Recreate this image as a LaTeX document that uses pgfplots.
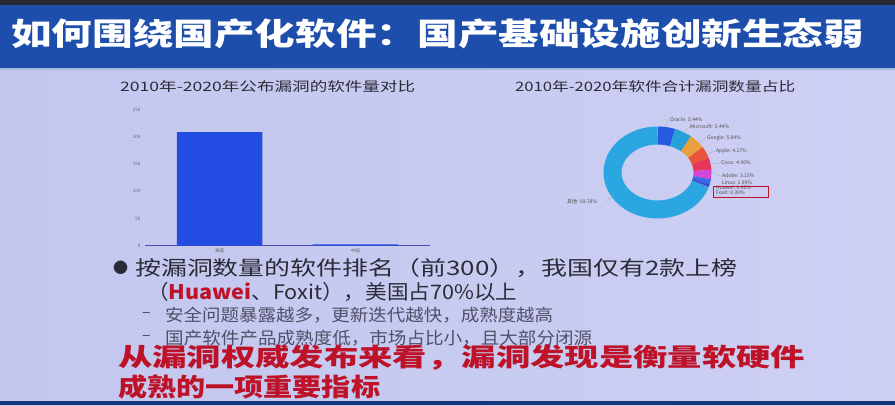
\documentclass[border=0pt]{standalone}
\usepackage{pgfplots}
\pgfplotsset{compat=1.18}
\usepackage{pgfplotstable}
\usepackage{graphicx}
\usepackage{fontspec}
\setmainfont{Noto Sans CJK SC}

\definecolor{bgL}{RGB}{195,198,238}
\definecolor{bgR}{RGB}{205,208,243}
\definecolor{headblue}{RGB}{30,78,172}
\definecolor{headdark}{RGB}{40,40,45}
\definecolor{barblue}{RGB}{34,76,226}
\definecolor{txt}{RGB}{43,43,56}
\definecolor{subtxt}{RGB}{80,80,104}
\definecolor{redtxt}{RGB}{190,18,40}
\definecolor{cOracle}{RGB}{40,90,225}
\definecolor{cMicrosoft}{RGB}{38,160,215}
\definecolor{cGoogle}{RGB}{232,160,60}
\definecolor{cApple}{RGB}{232,85,60}
\definecolor{cCisco}{RGB}{230,55,90}
\definecolor{cAdobe}{RGB}{210,70,215}
\definecolor{cLinux}{RGB}{60,105,230}
\definecolor{cHuawei}{RGB}{40,70,200}
\definecolor{cFoxit}{RGB}{85,120,225}
\definecolor{cOther}{RGB}{42,166,224}

% share of vulnerabilities 2010-2020 (percent), clockwise from the top
\pgfplotstableread{
share col
5.44 cOracle
5.44 cMicrosoft
5.04 cGoogle
4.17 cApple
4.00 cCisco
3.15 cAdobe
1.99 cLinux
0.60 cHuawei
0.39 cFoxit
69.78 cOther
}\piedata

% horizontally fitted text line
\newcommand{\fitline}[3]{\resizebox{#1pt}{\height}{\fontsize{#2}{#2}\selectfont #3}}

\begin{document}
\begin{tikzpicture}[x=1pt,y=1pt]
% slide background
\shade[left color=bgL, right color=bgR] (0,0) rectangle (895,405);
\fill[headblue] (0,337) rectangle (895,400);
\fill[headdark] (0,400) rectangle (895,405);
\fill[white!60!headblue] (0,335) rectangle (895,337);
\fill[headblue!70!black] (0,0) rectangle (895,4);

\node[anchor=west, inner sep=0, text=white] at (11,371)
  {\fitline{853}{31}{\bfseries 如何围绕国产化软件：国产基础设施创新生态弱}};

% left chart
\node[anchor=west, inner sep=0, text=txt] at (120,318)
  {\fitline{295}{13}{2010年-2020年公布漏洞的软件量对比}};
\begin{axis}[
  at={(145pt,159.5pt)}, anchor=south west,
  scale only axis, width=285pt, height=135.5pt,
  xmin=-0.55, xmax=1.55, ymin=0, ymax=250,
  axis lines=left,
  y axis line style={draw=none},
  x axis line style={draw=gray!60!blue, -},
  major tick length=0pt,
  ytick={0,50,...,250},
  xtick={0,1}, xticklabels={美国,中国},
  tick label style={font=\fontsize{4.5}{5}\selectfont, text=gray!80!black},
  /pgf/number format/assume math mode=true,
  yticklabel style={xshift=-1pt},
  ybar, bar width=0.63,
]
\addplot[fill=barblue, draw=none] coordinates {(0,209) (1,2)};
\end{axis}

% right chart
\node[anchor=west, inner sep=0, text=txt] at (515,318)
  {\fitline{280}{13}{2010年-2020年软件合计漏洞数量占比}};
\begin{axis}[
  at={(657.5pt,232.5pt)}, anchor=origin,
  scale only axis, width=120pt, height=100pt,
  xmin=-60, xmax=60, ymin=-50, ymax=50,
  hide axis, clip=false,
]
\pgfplotstablegetrowsof{\piedata}
\pgfmathtruncatemacro\nrows{\pgfplotsretval-1}
\def\cum{0}
\pgfplotsforeachungrouped \i in {0,...,\nrows}{%
  \pgfplotstablegetelem{\i}{share}\of\piedata \let\sh\pgfplotsretval
  \pgfplotstablegetelem{\i}{col}\of\piedata \let\cl\pgfplotsretval
  \pgfmathsetmacro\aEnd{90-3.6*\cum}
  \pgfmathsetmacro\cumnew{\cum+\sh}
  \pgfmathsetmacro\aStart{90-3.6*\cumnew}
  \let\cum\cumnew
  \edef\temp{\noexpand\addplot[draw=\cl, line width=18pt, domain=\aStart:\aEnd, samples=40] ({45*cos(x)},{37*sin(x)});}
  \temp
}
\end{axis}
\begin{scope}[font=\fontsize{5}{5}\selectfont, text=black!70, draw=gray!70, line width=0.3pt]
\node[anchor=west, inner sep=0] at (670,285) {Oracle: 5.44\%};
\node[anchor=west, inner sep=0] at (690,278) {Microsoft: 5.44\%};
\node[anchor=west, inner sep=0] at (707,267) {Google: 5.04\%};
\node[anchor=west, inner sep=0] at (716,254) {Apple: 4.17\%};
\node[anchor=west, inner sep=0] at (721,242) {Cisco: 4.00\%};
\node[anchor=west, inner sep=0] at (722,229) {Adobe: 3.15\%};
\node[anchor=west, inner sep=0] at (722,222) {Linux: 1.99\%};
\node[anchor=west, inner sep=0] at (716,217) {Huawei: 0.60\%};
\node[anchor=west, inner sep=0] at (716,212) {Foxit: 0.39\%};
\node[anchor=west, inner sep=0] at (567,203) {其他: 69.78\%};
\draw (664,278) -- (669,285);
\draw (683,272) -- (689,278);
\draw (699,262) -- (706,267);
\draw (708,251) -- (715,254);
\draw (712,241) -- (720,242);
\draw (713,232) -- (721,229);
\draw (606,204) -- (614,210);
\end{scope}
\draw[redtxt, line width=0.8pt] (713,208) rectangle (768,219);

% bullet text
\node[anchor=west, inner sep=0, text=txt] at (113,137) {\fontsize{15}{15}\selectfont ●};
\node[anchor=west, inner sep=0, text=txt] at (135,137)
  {\fitline{602}{20}{按漏洞数量的软件排名（前300），我国仅有2款上榜}};
\node[anchor=west, inner sep=0, text=txt] at (147,113)
  {\fitline{370}{20}{（{\bfseries\color{redtxt}Huawei}、Foxit），美国占70\%以上}};
\node[anchor=west, inner sep=0, text=subtxt] at (142,90) {\fontsize{16}{16}\selectfont –};
\node[anchor=west, inner sep=0, text=subtxt] at (165,90)
  {\fitline{388}{17}{安全问题暴露越多，更新迭代越快，成熟度越高}};
\node[anchor=west, inner sep=0, text=subtxt] at (142,67) {\fontsize{16}{16}\selectfont –};
\node[anchor=west, inner sep=0, text=subtxt] at (165,67)
  {\fitline{427}{17}{国产软件产品成熟度低，市场占比小，且大部分闭源}};
\node[anchor=west, inner sep=0, text=redtxt] at (118,47)
  {\fitline{687}{25}{\bfseries 从漏洞权威发布来看，漏洞发现是衡量软硬件}};
\node[anchor=west, inner sep=0, text=redtxt] at (118,18)
  {\fitline{262}{25}{\bfseries 成熟的一项重要指标}};
\end{tikzpicture}
\end{document}
